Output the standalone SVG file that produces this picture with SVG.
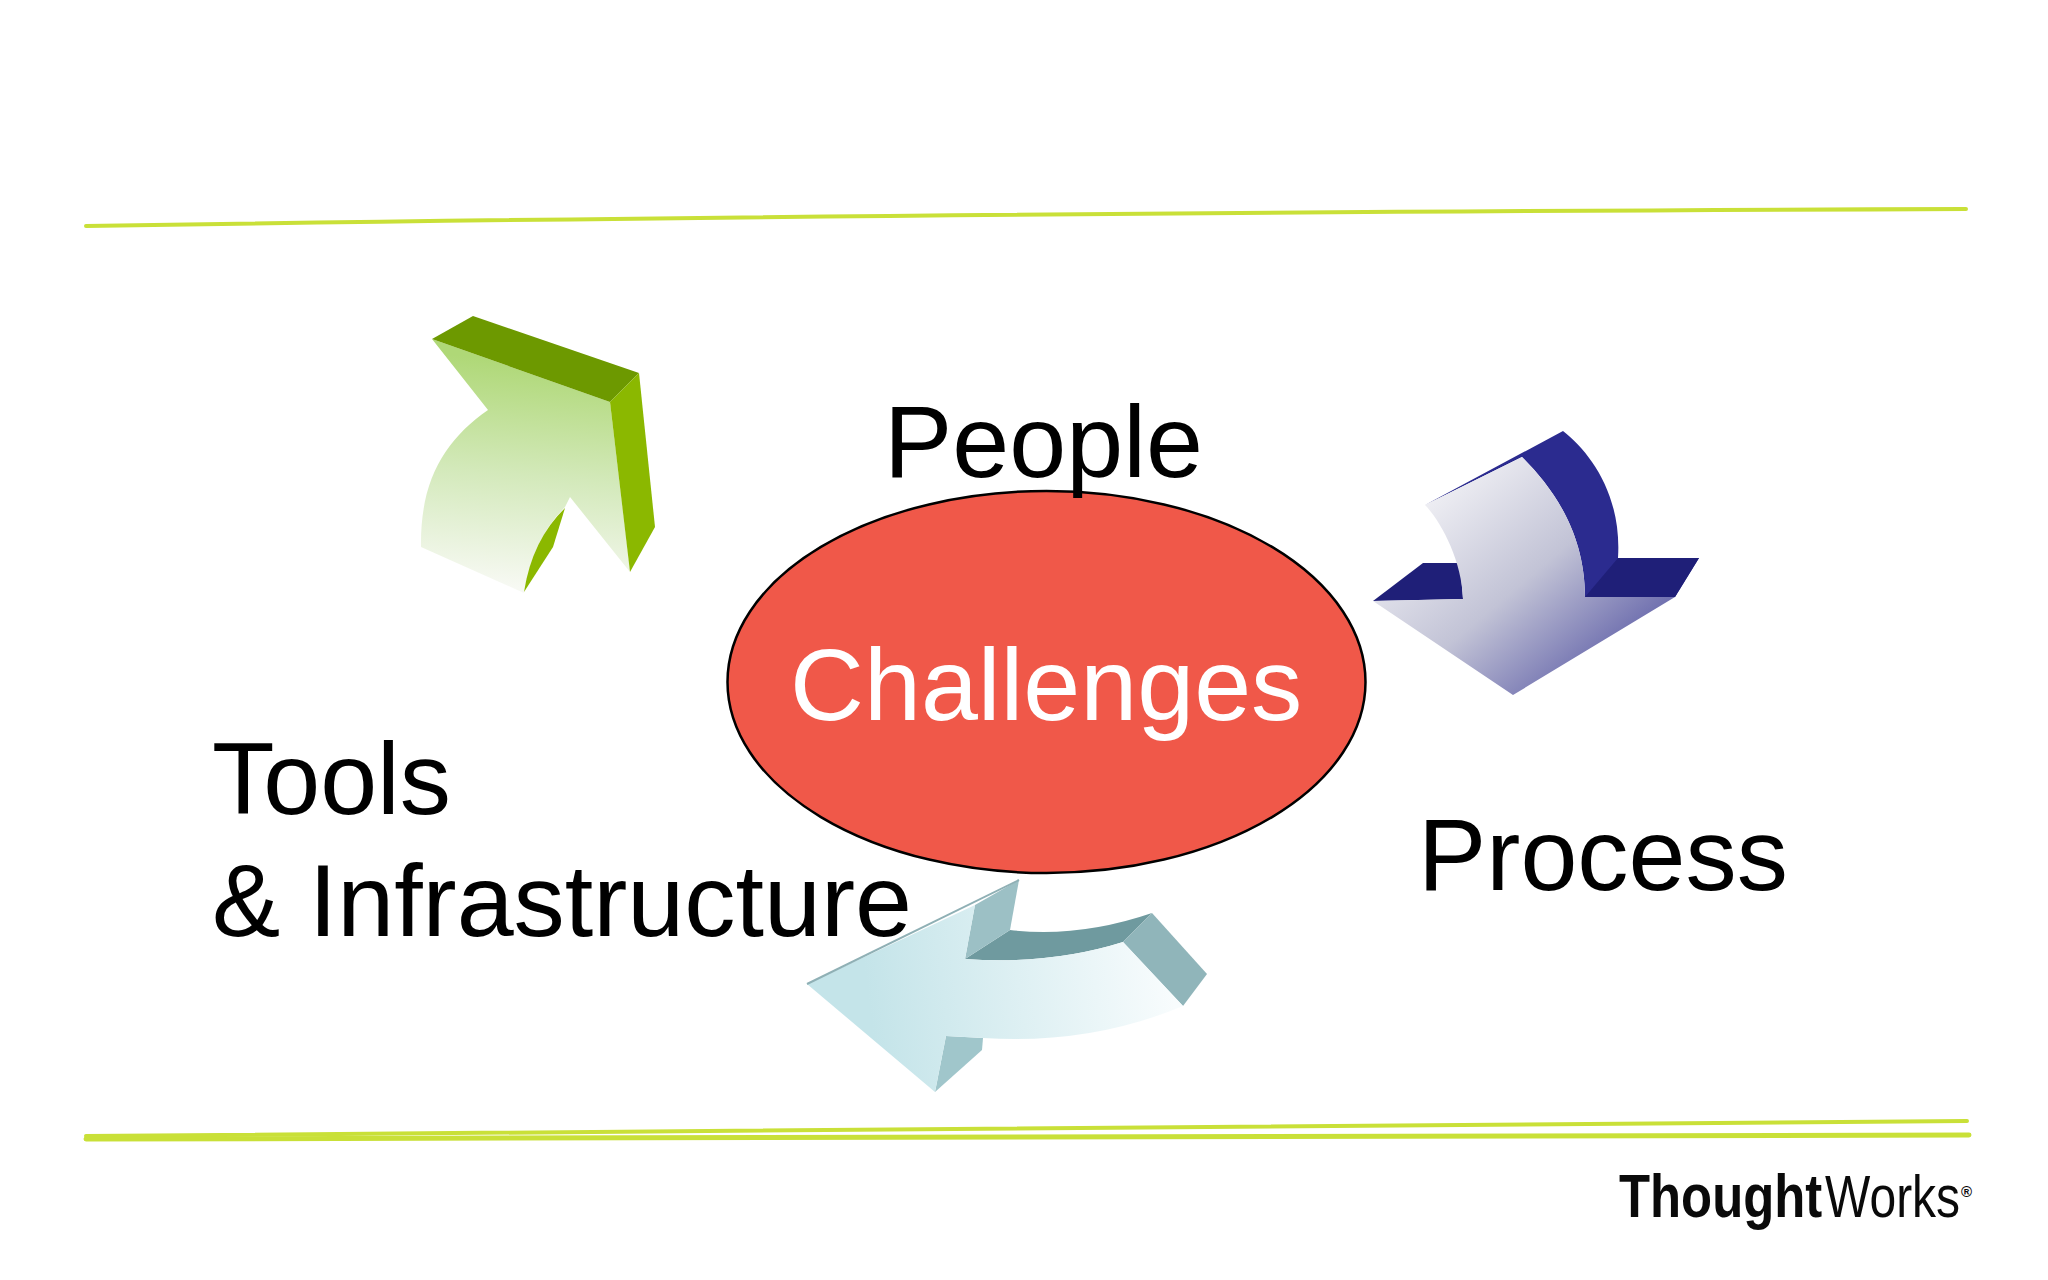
<svg xmlns="http://www.w3.org/2000/svg" width="2048" height="1280" viewBox="0 0 2048 1280">
<style>
.lbl{font-family:"Liberation Sans",Arial,sans-serif;font-size:102.4px;fill:#000}
.rule{fill:none;stroke:#c9e038;stroke-linecap:round}
.logo{font-family:"Liberation Sans",Arial,sans-serif;fill:#0a0a0a}
</style>
<defs>
<linearGradient id="gFront" gradientUnits="userSpaceOnUse" x1="510" y1="360" x2="490" y2="585"><stop offset="0" stop-color="#afd877"/><stop offset="0.5" stop-color="#d3e9ba"/><stop offset="1" stop-color="#f7f9f3"/></linearGradient>
<linearGradient id="bFront" gradientUnits="userSpaceOnUse" x1="1440" y1="490" x2="1600" y2="680"><stop offset="0" stop-color="#eeeef3"/><stop offset="0.5" stop-color="#c2c3d6"/><stop offset="1" stop-color="#6565aa"/></linearGradient>
<linearGradient id="tFront" gradientUnits="userSpaceOnUse" x1="870" y1="1010" x2="1170" y2="970"><stop offset="0" stop-color="#c4e4e9"/><stop offset="1" stop-color="#f8fcfd"/></linearGradient>
</defs>
<rect width="2048" height="1280" fill="#fff"/>
<g id="rules">
<path class="rule" stroke-width="4" d="M86 226Q900 213 1966 209"/>
<path class="rule" stroke-width="4" d="M86 1136Q1000 1128 1967 1121"/>
<path class="rule" stroke-width="5" d="M86 1139Q1000 1141 1969 1135"/>
</g>
<g id="arrow-green">
<path fill="url(#gFront)" d="M432 339L610 402L630 572L570 497L565 507Q532 540 524 593L421 547C420 480 445 440 488 410Z"/>
<path fill="#6d9900" d="M432 339L473 316L639 373L610 402Z"/>
<path fill="#8bb800" d="M639 373L655 527L630 572L610 402Z"/>
<path fill="#8bb800" d="M565 508Q532 540 524 592L553 547Z"/>
</g>
<g id="arrow-blue">
<path fill="#2b2b8f" d="M1425 505L1563 431C1590 452 1622 495 1618 558L1699 558L1675 597L1585 597C1585 530 1550 485 1522 457Z"/>
<path fill="#1f1f78" d="M1618 558L1699 558L1675 597L1585 597Z"/>
<path fill="#1f1f78" d="M1373 601L1423 563L1460 563L1463 599Z"/>
<path fill="url(#bFront)" d="M1425 505L1522 457C1550 485 1585 530 1585 597L1675 597L1513 695L1373 601L1463 599C1462 560 1440 520 1425 505Z"/>
</g>
<g id="arrow-teal">
<path fill="#6f9a9f" d="M965 959L1010 930Q1079 938 1152 913L1123 942Q1050 965 965 959Z"/>
<path fill="#9cc0c5" d="M1019 880L1010 930L965 959L975 905Z"/>
<path fill="#90b5ba" d="M1152 913L1207 974L1183 1006L1123 942Z"/>
<path fill="#a0c6cb" d="M946 1036L983 1038L982 1050L935 1092Z"/>
<path fill="url(#tFront)" d="M807 984L975 905L965 959Q1050 965 1123 942L1183 1006Q1090 1045 983 1038L946 1036L935 1092Z"/>
<path fill="none" stroke="#8fb0b5" stroke-width="2" d="M807 984L1019 880"/>
</g>
<g id="challenges">
<ellipse cx="1046.5" cy="682" rx="319" ry="191" fill="#f05849" stroke="#000" stroke-width="2.5"/>
<text class="lbl" x="790" y="720" style="fill:#fff">Challenges</text>
</g>
<g id="people"><text class="lbl" x="884" y="477">People</text></g>
<g id="process"><text class="lbl" x="1418" y="890">Process</text></g>
<g id="tools"><text class="lbl" x="212" y="814">Tools</text><text class="lbl" x="212" y="936">&amp; Infrastructure</text></g>
<g id="logo"><text class="logo" transform="translate(1619 1217) scale(.82 1)" font-size="62" font-weight="700">Thought</text><text class="logo" transform="translate(1825 1217) scale(.8 1)" font-size="60">Works</text><text class="logo" x="1961" y="1197" font-size="15" font-weight="700">®</text></g>
</svg>
